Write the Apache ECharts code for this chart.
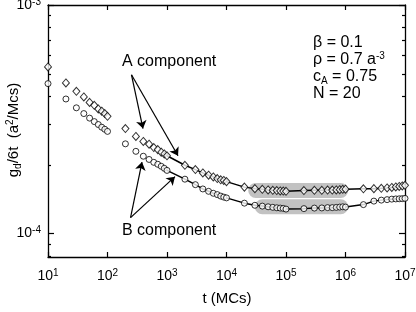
<!DOCTYPE html>
<html>
<head>
<meta charset="utf-8">
<script src="https://cdn.jsdelivr.net/npm/echarts@6/dist/echarts.min.js"></script>
<style>html,body{margin:0;padding:0;background:#fff}#c{width:416px;height:312px}</style>
</head>
<body>
<div id="c"></div>
<script>
// sample times (MCs)
const tValues = [10, 20, 30, 40, 50, 60, 70, 80, 90, 100,
  200, 300, 400, 500, 600, 700, 800, 900, 1000,
  2000, 3000, 4000, 5000, 6000, 7000, 8000, 9000, 1e4,
  2e4, 3e4, 4e4, 5e4, 6e4, 7e4, 8e4, 9e4, 1e5,
  2e5, 3e5, 4e5, 5e5, 6e5, 7e5, 8e5, 9e5, 1e6,
  2e6, 3e6, 4e6, 5e6, 6e6, 7e6, 8e6, 9e6, 1e7];
// A component (diamonds)
const gA = [5.36e-4, 4.56e-4, 4.19e-4, 3.96e-4, 3.75e-4, 3.64e-4, 3.51e-4, 3.43e-4, 3.35e-4, 3.26e-4,
  2.88e-4, 2.66e-4, 2.53e-4, 2.46e-4, 2.38e-4, 2.33e-4, 2.27e-4, 2.23e-4, 2.19e-4,
  1.99e-4, 1.905e-4, 1.843e-4, 1.80e-4, 1.77e-4, 1.74e-4, 1.72e-4, 1.708e-4, 1.688e-4,
  1.597e-4, 1.573e-4, 1.562e-4, 1.553e-4, 1.547e-4, 1.542e-4, 1.537e-4, 1.534e-4, 1.531e-4,
  1.542e-4, 1.547e-4, 1.547e-4, 1.550e-4, 1.550e-4, 1.553e-4, 1.557e-4, 1.562e-4, 1.565e-4,
  1.570e-4, 1.573e-4, 1.578e-4, 1.584e-4, 1.592e-4, 1.600e-4, 1.608e-4, 1.616e-4, 1.626e-4];
// B component (circles)
const gB = [4.53e-4, 3.88e-4, 3.55e-4, 3.35e-4, 3.20e-4, 3.09e-4, 3.00e-4, 2.92e-4, 2.86e-4, 2.80e-4,
  2.47e-4, 2.29e-4, 2.18e-4, 2.11e-4, 2.05e-4, 2.01e-4, 1.97e-4, 1.93e-4, 1.89e-4,
  1.73e-4, 1.637e-4, 1.568e-4, 1.531e-4, 1.501e-4, 1.481e-4, 1.459e-4, 1.444e-4, 1.433e-4,
  1.359e-4, 1.330e-4, 1.319e-4, 1.310e-4, 1.303e-4, 1.297e-4, 1.293e-4, 1.289e-4, 1.280e-4,
  1.286e-4, 1.293e-4, 1.295e-4, 1.299e-4, 1.299e-4, 1.302e-4, 1.306e-4, 1.310e-4, 1.306e-4,
  1.339e-4, 1.387e-4, 1.401e-4, 1.408e-4, 1.415e-4, 1.418e-4, 1.420e-4, 1.422e-4, 1.426e-4];
// the fitted line is drawn from this time on
const lineStartT = 1000;
// shaded plateau bands
const bandTA = [3.1e4, 8.3e5];
const bandGA = [1.545e-4, 1.545e-4];
const bandTB = [4.0e4, 8.3e5];
const bandGB = [1.31e-4, 1.31e-4];
// annotation arrows [fromT, fromG, toT, toG]
const arrowsA = [[253, 4.95e-4, 395, 2.88e-4], [253, 4.95e-4, 1531, 2.19e-4]];
const arrowsB = [[244, 1.175e-4, 380, 2.056e-4], [244, 1.175e-4, 1361, 1.775e-4]];
// axis ticks
const xTicks = [10, 100, 1e3, 1e4, 1e5, 1e6, 1e7];
const yMajor = [1e-4, 1e-3];
const yMinor = [8e-5, 9e-5, 2e-4, 3e-4, 4e-4, 5e-4, 6e-4, 7e-4, 8e-4, 9e-4];
const xMin = 10, xMax = 1e7, yMin = 7.9e-5, yMax = 1e-3;

const L = v => Math.log10(v);
const F = 'Liberation Sans, Arial, Helvetica, sans-serif';
const rich = {
  b: {fontSize: 14, fontFamily: F, color: '#000', lineHeight: 16},
  s: {fontSize: 10, fontFamily: F, color: '#000', verticalAlign: 'top', lineHeight: 10}
};
const powFmt = v => '{b|10}{s|' + Math.round(v) + '}';

const ptsA = tValues.map((t, i) => [L(t), L(gA[i])]);
const ptsB = tValues.map((t, i) => [L(t), L(gB[i])]);
const lineA = ptsA.filter((p, i) => tValues[i] >= lineStartT);
const lineB = ptsB.filter((p, i) => tValues[i] >= lineStartT);
const arrowData = arr => arr.map(a => [{coord: [L(a[0]), L(a[1])]}, {coord: [L(a[2]), L(a[3])]}]);

const axLine = {show: true, lineStyle: {color: '#000', width: 1.3}};
function xAx(pos, labels) {
  return {
    type: 'value', position: pos, min: L(xMin), max: L(xMax), interval: 1,
    axisLine: axLine, splitLine: {show: false},
    axisTick: {show: true, inside: true, length: 5, lineStyle: {color: '#000', width: 1.2},
      customValues: xTicks.map(L)},
    axisLabel: {show: labels, margin: 11, formatter: powFmt, rich: rich, customValues: xTicks.map(L)}
  };
}
function yAx(pos, vals, len, line, labels) {
  return {
    type: 'value', position: pos, min: L(yMin), max: L(yMax), offset: 0,
    axisLine: line ? axLine : {show: false}, splitLine: {show: false},
    axisTick: {show: true, inside: true, length: len, lineStyle: {color: '#000', width: 1.2},
      customValues: vals.map(L)},
    axisLabel: {show: labels, margin: 7, formatter: powFmt, rich: rich, customValues: vals.map(L)}
  };
}
function bandSeries(ts, gs) {
  return {type: 'line', xAxisIndex: 0, yAxisIndex: 0, z: 1, silent: true, symbol: 'none',
    data: ts.map((t, i) => [L(t), L(gs[i])]),
    lineStyle: {color: '#c2c2c2', width: 15, cap: 'round'}};
}
const markArrow = arr => ({
  silent: true, symbol: ['none', 'arrow'], symbolSize: 8, precision: 6,
  label: {show: false}, emphasis: {disabled: true},
  lineStyle: {color: '#000', width: 1.2, type: 'solid'},
  data: arrowData(arr)
});

const chart = echarts.init(document.getElementById('c'), null, {renderer: 'canvas'});
chart.setOption({
  animation: false,
  backgroundColor: '#fff',
  grid: {left: 48, right: 11, top: 5, bottom: 55, containLabel: false, outerBoundsMode: 'none'},
  xAxis: [xAx('bottom', true), xAx('top', false)],
  yAxis: [
    yAx('left', yMajor, 6, true, true),
    yAx('left', yMinor, 3, false, false),
    yAx('right', yMajor, 6, true, false),
    yAx('right', yMinor, 3, false, false)
  ],
  series: [
    bandSeries(bandTA, bandGA),
    bandSeries(bandTB, bandGB),
    {type: 'line', z: 2, silent: true, symbol: 'none', data: lineA,
      lineStyle: {color: '#000', width: 1.5}, markLine: markArrow(arrowsA)},
    {type: 'line', z: 2, silent: true, symbol: 'none', data: lineB,
      lineStyle: {color: '#000', width: 1.5}, markLine: markArrow(arrowsB)},
    {type: 'scatter', z: 3, silent: true, symbol: 'diamond', symbolSize: [7, 8], data: ptsA,
      itemStyle: {color: '#fff', borderColor: '#000', borderWidth: 1}},
    {type: 'scatter', z: 3, silent: true, symbol: 'circle', symbolSize: 6, data: ptsB,
      itemStyle: {color: '#fff', borderColor: '#000', borderWidth: 1}}
  ],
  graphic: [
    {type: 'text', x: 227, y: 299, style: {text: 't (MCs)', font: '15px ' + F, fill: '#000', align: 'center', verticalAlign: 'middle'}},
    {type: 'text', x: 14, y: 130, rotation: Math.PI / 2, style: {
      text: '{m|g}{d|d}{m|/6t  (a}{u|2}{m|/Mcs)}', align: 'center', verticalAlign: 'middle', fill: '#000',
      rich: {m: {fontSize: 15, fontFamily: F, color: '#000', lineHeight: 18},
        d: {fontSize: 10, fontFamily: F, color: '#000', verticalAlign: 'bottom', lineHeight: 10},
        u: {fontSize: 10, fontFamily: F, color: '#000', verticalAlign: 'top', lineHeight: 10}}}},
    {type: 'text', x: 122, y: 62, style: {text: 'A component', font: '16px ' + F, fill: '#000', align: 'left', verticalAlign: 'middle'}},
    {type: 'text', x: 122, y: 231, style: {text: 'B component', font: '16px ' + F, fill: '#000', align: 'left', verticalAlign: 'middle'}},
    {type: 'text', x: 313, y: 43, style: {text: 'β = 0.1', font: '16px ' + F, fill: '#000', align: 'left', verticalAlign: 'middle'}},
    {type: 'text', x: 313, y: 60, style: {text: '{m|ρ = 0.7 a}{u|-3}', align: 'left', verticalAlign: 'middle',
      rich: {m: {fontSize: 16, fontFamily: F, color: '#000', lineHeight: 18}, u: {fontSize: 10, fontFamily: F, color: '#000', verticalAlign: 'top', lineHeight: 10}}}},
    {type: 'text', x: 313, y: 77, style: {text: '{m|c}{d|A}{m| = 0.75}', align: 'left', verticalAlign: 'middle',
      rich: {m: {fontSize: 16, fontFamily: F, color: '#000', lineHeight: 18}, d: {fontSize: 10, fontFamily: F, color: '#000', verticalAlign: 'bottom', lineHeight: 10}}}},
    {type: 'text', x: 313, y: 94, style: {text: 'N = 20', font: '16px ' + F, fill: '#000', align: 'left', verticalAlign: 'middle'}}
  ]
});
</script>
</body>
</html>
